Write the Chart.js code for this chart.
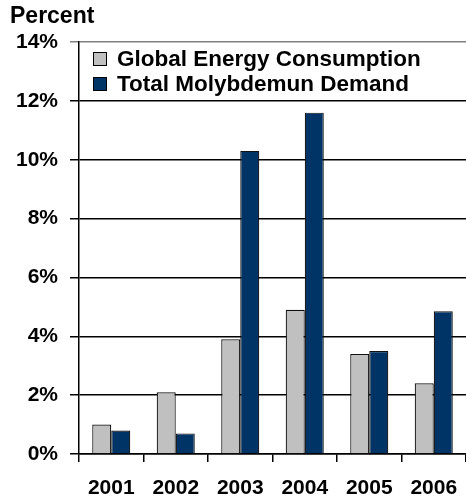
<!DOCTYPE html>
<html>
<head>
<meta charset="utf-8">
<script src="https://cdn.jsdelivr.net/npm/chart.js@4.4.1/dist/chart.umd.min.js"></script>
<style>
    html, body { margin: 0; padding: 0; background: #ffffff; }
    #wrap { width: 466px; height: 502px; position: relative; }
</style>
</head>
<body>
<div id="wrap"><canvas id="molyChart"></canvas></div>
<script>
const years = ["2001", "2002", "2003", "2004", "2005", "2006"];
const energyConsumption = [1.0, 2.1, 3.9, 4.9, 3.4, 2.4];
const molybdenumDemand = [0.8, 0.7, 10.3, 11.6, 3.5, 4.85];
const seriesNames = ["Global Energy Consumption", "Total Molybdemun Demand"];
const seriesColors = ["#c0c0c0", "#003366"];
const yMax = 14;
const yStep = 2;

const FONT = "Arial, 'Liberation Sans', sans-serif";

// legend drawn inside the plot area, one entry per row
const insideLegend = {
    id: "insideLegend",
    afterDraw(chart) {
        const ctx = chart.ctx;
        const area = chart.chartArea;
        const x = area.left + 14;
        let y = area.top + 17;
        ctx.save();
        ctx.font = "bold 22.5px " + FONT;
        ctx.textBaseline = "middle";
        chart.data.datasets.forEach((ds) => {
            ctx.fillStyle = ds.backgroundColor;
            ctx.fillRect(x, y - 7, 14, 14);
            ctx.strokeStyle = "#000000";
            ctx.lineWidth = 1;
            ctx.strokeRect(x + 0.5, y - 6.5, 13, 13);
            ctx.fillStyle = "#000000";
            ctx.fillText(ds.label, x + 24, y + 1);
            y += 25;
        });
        ctx.restore();
    }
};

const ctx = document.getElementById("molyChart").getContext("2d");

new Chart(ctx, {
    type: "bar",
    data: {
        labels: years,
        datasets: [
            {
                label: seriesNames[0],
                data: energyConsumption,
                backgroundColor: seriesColors[0],
                borderColor: "#111111",
                borderWidth: 1.2,
                barPercentage: 1.0,
                categoryPercentage: 0.59,
            },
            {
                label: seriesNames[1],
                data: molybdenumDemand,
                backgroundColor: seriesColors[1],
                borderColor: "#111111",
                borderWidth: 1.2,
                barPercentage: 1.0,
                categoryPercentage: 0.59,
            },
        ],
    },
    options: {
        responsive: true,
        maintainAspectRatio: false,
        animation: false,
        layout: { padding: { left: 10, right: 0, top: 0, bottom: 0 } },
        plugins: {
            legend: { display: false },
            tooltip: { enabled: false },
            title: {
                display: true,
                text: "Percent",
                align: "start",
                color: "#000000",
                font: { family: FONT, size: 23, weight: "bold", lineHeight: 1.2 },
                padding: { top: 3, bottom: 11.4 },
            },
        },
        scales: {
            x: {
                offset: true,
                grid: {
                    offset: true,
                    drawOnChartArea: false,
                    drawTicks: true,
                    tickLength: 8,
                    color: "#000000",
                    lineWidth: 1.5,
                },
                border: { display: true, color: "#000000", width: 1.5 },
                ticks: {
                    color: "#000000",
                    padding: 5,
                    font: { family: FONT, size: 21, weight: "bold", lineHeight: 2.0 },
                    maxRotation: 0,
                },
                afterFit(scale) { scale.height = 48; },
            },
            y: {
                min: 0,
                max: yMax,
                ticks: {
                    stepSize: yStep,
                    color: "#000000",
                    padding: 12,
                    font: { family: FONT, size: 21, weight: "bold" },
                    callback: (v) => v + "%",
                },
                grid: {
                    color: (c) => (c.tick && c.tick.value === yMax ? "#808080" : "#000000"),
                    lineWidth: 1.5,
                    tickLength: 9,
                },
                border: { display: true, color: "#000000", width: 1.5 },
                afterFit(scale) { scale.width = 69; },
            },
        },
    },
    plugins: [insideLegend],
});
</script>
</body>
</html>
